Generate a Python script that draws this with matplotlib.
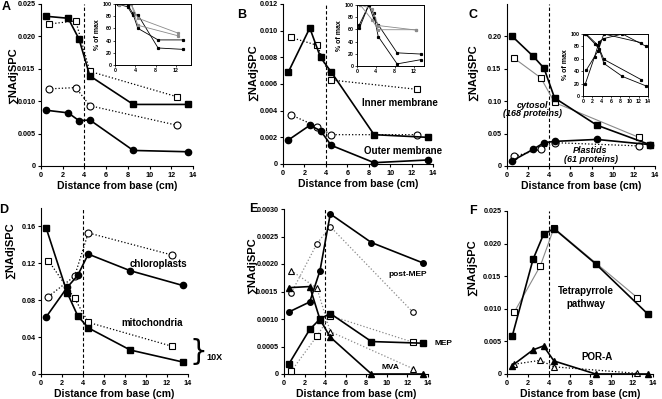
import numpy as np
import matplotlib
matplotlib.use("Agg")
import matplotlib.pyplot as plt
from matplotlib.ticker import FuncFormatter

plt.rcParams['font.family'] = ['Liberation Sans', 'DejaVu Sans']
plt.rcParams['font.weight'] = 'bold'

W, H = 662, 399

# x positions (cm from base)
x_fill = [0.5, 2.5, 3.5, 4.5, 8.5, 13.5]
x_open = [0.7, 3.2, 4.5, 12.5]

# A
a_sq_f = [0.0231, 0.0228, 0.0196, 0.0139, 0.0095, 0.0095]
a_sq_o = [0.0219, 0.0224, 0.0146, 0.0107]
a_ci_o = [0.0119, 0.0121, 0.0093, 0.0063]
a_ci_f = [0.0086, 0.0082, 0.0070, 0.0071, 0.0024, 0.0022]
# B
b_sq_f = [0.0069, 0.0102, 0.0080, 0.0069, 0.0022, 0.0020]
b_sq_o = [0.0095, 0.0089, 0.0063, 0.0056]
b_ci_o = [0.0037, 0.0028, 0.0022, 0.0022]
b_ci_f = [0.0018, 0.0029, 0.0025, 0.0014, 0.0001, 0.0003]
# C
c_sq_f = [0.200, 0.169, 0.151, 0.105, 0.063, 0.033]
c_sq_o = [0.166, 0.136, 0.098, 0.044]
c_ci_f = [0.008, 0.026, 0.036, 0.038, 0.041, 0.033]
c_ci_o = [0.015, 0.026, 0.036, 0.031]
# D
d_ci_f = [0.062, 0.094, 0.107, 0.130, 0.112, 0.096]
d_sq_f = [0.158, 0.088, 0.063, 0.050, 0.026, 0.013]
d_ci_o = [0.084, 0.106, 0.153, 0.129]
d_sq_o = [0.123, 0.082, 0.056, 0.030]
# E
e_ci_f = [0.00113, 0.00131, 0.00188, 0.00291, 0.00239, 0.00202]
e_ci_o = [0.00147, 0.00237, 0.00268, 0.00113]
e_tr_f = [0.00157, 0.00159, 0.00099, 0.00067, 0.0, 0.0]
e_tr_o = [0.00188, 0.00156, 0.00077, 0.0001]
e_sq_f = [0.00019, 0.00081, 0.00100, 0.00110, 0.00059, 0.00056]
e_sq_o = [0.00005, 0.00069, 0.00106, 0.00058]
# F
f_sq_f = [0.0058, 0.0176, 0.0214, 0.0223, 0.0169, 0.0092]
f_sq_o = [0.0095, 0.0166, 0.0224, 0.0117]
f_tr_f = [0.0013, 0.0037, 0.0043, 0.0020, 0.0, 0.0]
f_tr_o = [0.0015, 0.0021, 0.0011, 0.0001]

fig = plt.figure(figsize=(W / 100, H / 100), dpi=100)


def box(l, r, t, b):
    return [l / W, 1 - b / H, (r - l) / W, (b - t) / H]


def fmt(dec):
    return FuncFormatter(lambda v, p: "0" if abs(v) < 1e-12 else "%.*f" % (dec, v))


def main_ax(rect, ymax, ystep, ytop, dec):
    ax = fig.add_axes(rect)
    ax.set_xlim(0, 14)
    ax.set_ylim(0, ytop)
    ax.set_xticks(np.arange(0, 15, 2))
    ax.set_yticks(np.arange(0, ymax + ystep / 2, ystep))
    ax.yaxis.set_major_formatter(fmt(dec))
    for s in ['top', 'right']:
        ax.spines[s].set_visible(False)
    ax.tick_params(labelsize=5.2, length=2.5, width=0.8, pad=1.5)
    for lab in ax.get_xticklabels() + ax.get_yticklabels():
        lab.set_fontweight('bold')
    ax.axvline(4, color='black', ls='--', lw=0.8, dashes=(3, 2))
    ax.set_xlabel("Distance from base (cm)", fontsize=7.5, fontweight='bold', labelpad=1.5)
    return ax


def filled(ax, y, m, ms=4.5, color='black'):
    ax.plot(x_fill, y, color=color, lw=1.2, marker=m, ms=ms, mfc='black', mec='black', clip_on=False, zorder=3)


def opened(ax, y, m, ms=5, ls=':', color='black', lw=0.9):
    ax.plot(x_open, y, color=color, ls=ls, lw=lw, marker=m, ms=ms, mfc='white', mec='black',
            mew=0.8, clip_on=False, zorder=3)


def inset(rect, series, xlim, xt):
    ax = fig.add_axes(rect)
    for x, y, c in series:
        y = np.array(y)
        ax.plot(x, 100 * y / y.max(), color=c, lw=0.6, marker='s', ms=1.3, mfc=c, mec=c)
    ax.set_xlim(*xlim)
    ax.set_ylim(0, 100)
    ax.set_xticks(xt)
    ax.set_yticks(np.arange(0, 101, 20))
    ax.tick_params(labelsize=3.8, length=1.5, width=0.5, pad=1)
    for lab in ax.get_xticklabels() + ax.get_yticklabels():
        lab.set_fontweight('bold')
    for s in ax.spines.values():
        s.set_linewidth(0.7)
    ax.set_ylabel("% of max", fontsize=5, fontweight='bold', labelpad=1)
    return ax


def ylab(x, y):
    fig.text(x / W, 1 - y / H, "\u2211NAdjSPC", rotation=90, ha='center', va='center',
             fontsize=8, fontweight='bold')


def letter(x, y, s):
    fig.text(x / W, 1 - y / H, s, ha='center', va='center', fontsize=9, fontweight='bold')


GR = '#8a8a8a'

# ---- A
ax = main_ax(box(41, 193, 4, 166), 0.025, 0.005, 0.025, 3)
opened(ax, a_sq_o, 's')
opened(ax, a_ci_o, 'o')
filled(ax, a_sq_f, 's')
filled(ax, a_ci_f, 'o')
inset(box(115, 191, 4, 65),
      [(x_fill, a_sq_f, 'black'), (x_fill, a_ci_f, 'black'),
       (x_open, a_sq_o, GR), (x_open, a_ci_o, GR)], (0, 15), [0, 4, 8, 12])
ylab(13, 76)
letter(6, 7, "A")

# ---- B
ax = main_ax(box(283, 433, 4, 164), 0.012, 0.002, 0.012, 3)
opened(ax, b_sq_o, 's')
opened(ax, b_ci_o, 'o')
filled(ax, b_sq_f, 's')
filled(ax, b_ci_f, 'o')
ax.text(10.9, 0.0046, "Inner membrane", ha='center', va='center', fontsize=7, fontweight='bold')
ax.text(11.2, 0.0010, "Outer membrane", ha='center', va='center', fontsize=7, fontweight='bold')
inset(box(357, 424, 5, 66),
      [(x_fill, b_sq_f, 'black'), (x_fill, b_ci_f, 'black'),
       (x_open, b_sq_o, GR), (x_open, b_ci_o, GR)], (0, 14.2), [0, 4, 8, 12])
ylab(253, 73)
letter(242, 15, "B")

# ---- C
ax = main_ax(box(507, 655, 4, 166), 0.20, 0.05, 0.25, 2)
opened(ax, c_sq_o, 's', ls='-', color=GR, lw=0.8)
opened(ax, c_ci_o, 'o')
filled(ax, c_sq_f, 's')
filled(ax, c_ci_f, 'o')
ax.text(2.4, 0.094, "cytosol", ha='center', va='center', fontsize=6.5, fontweight='bold', style='italic')
ax.text(2.4, 0.081, "(168 proteins)", ha='center', va='center', fontsize=6.5, fontweight='bold', style='italic')
ax.text(7.9, 0.024, "Plastids", ha='center', va='center', fontsize=6.5, fontweight='bold', style='italic')
ax.text(7.9, 0.0095, "(61 proteins)", ha='center', va='center', fontsize=6.5, fontweight='bold', style='italic')
inset(box(583, 648, 34, 96),
      [(x_fill, c_sq_f, 'black'), (x_fill, c_ci_f, 'black'),
       (x_open, c_sq_o, 'black'), (x_open, c_ci_o, 'black')], (0, 14), np.arange(0, 15, 2))
ylab(473, 73)
letter(473, 15, "C")

# ---- D
ax = main_ax(box(41, 188, 208, 374), 0.16, 0.04, 0.18, 2)
opened(ax, d_ci_o, 'o')
opened(ax, d_sq_o, 's')
filled(ax, d_ci_f, 'o')
filled(ax, d_sq_f, 's')
ax.text(11.2, 0.119, "chloroplasts", ha='center', va='center', fontsize=7, fontweight='bold')
ax.text(10.6, 0.055, "mitochondria", ha='center', va='center', fontsize=7, fontweight='bold')
ax.text(14.1, 0.024, "}", ha='left', va='center', fontsize=20, fontweight='normal',
        family='DejaVu Sans', clip_on=False)
fig.text(206 / W, 1 - 358 / H, "10X", ha='left', va='center', fontsize=6.5, fontweight='bold')
ylab(10, 251)
letter(4, 210, "D")

# ---- E
ax = main_ax(box(284, 428, 209, 374), 0.003, 0.0005, 0.003, 4)
opened(ax, e_ci_o, 'o', color=GR, ms=4)
opened(ax, e_tr_o, '^', color=GR, ms=4)
opened(ax, e_sq_o, 's', color=GR, ms=4)
filled(ax, e_ci_f, 'o', ms=4)
filled(ax, e_tr_f, '^', ms=4)
filled(ax, e_sq_f, 's', ms=4)
ax.text(12.05, 0.0018, "post-MEP", ha='center', va='center', fontsize=6, fontweight='bold')
ax.text(14.6, 0.00055, "MEP", ha='left', va='center', fontsize=6, fontweight='bold', clip_on=False)
ax.text(10.3, 0.00012, "MVA", ha='center', va='center', fontsize=6, fontweight='bold')
ylab(252, 266)
letter(253, 209, "E")

# ---- F
ax = main_ax(box(507, 653, 211, 374), 0.025, 0.005, 0.025, 3)
opened(ax, f_sq_o, 's', ls='-', color=GR, lw=0.8)
opened(ax, f_tr_o, '^', ms=4.5)
filled(ax, f_sq_f, 's')
filled(ax, f_tr_f, '^')
ax.text(7.55, 0.0127, "Tetrapyrrole", ha='center', va='center', fontsize=7, fontweight='bold')
ax.text(7.55, 0.0108, "pathway", ha='center', va='center', fontsize=7, fontweight='bold')
ax.text(8.6, 0.0026, "POR-A", ha='center', va='center', fontsize=7, fontweight='bold')
ylab(472, 268)
letter(473, 211, "F")

fig.savefig("out.png", dpi=100)
